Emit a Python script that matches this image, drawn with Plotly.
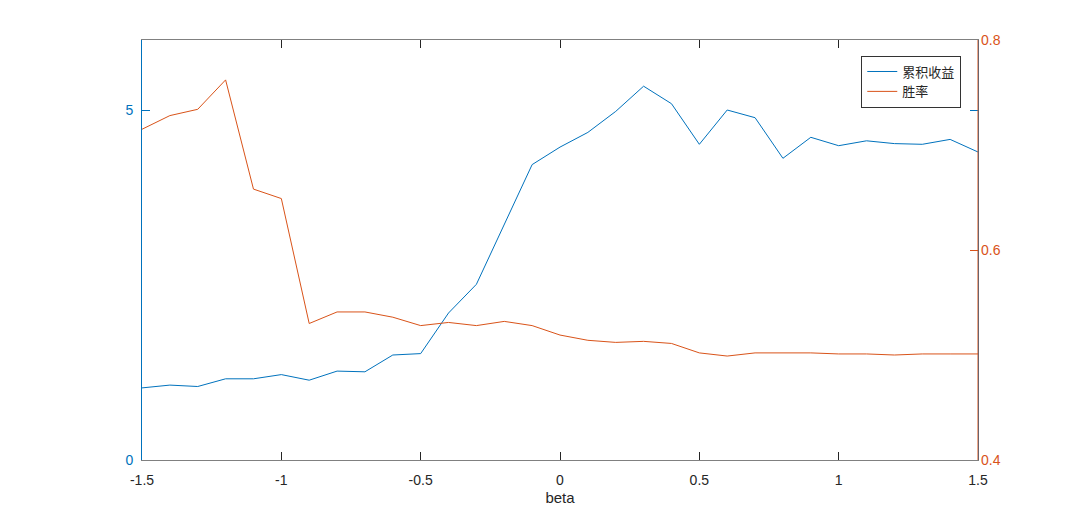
import plotly.graph_objects as go

beta = [-1.5, -1.4, -1.3, -1.2, -1.1, -1.0, -0.9, -0.8, -0.7, -0.6, -0.5, -0.4, -0.3, -0.2, -0.1,
        0.0, 0.1, 0.2, 0.3, 0.4, 0.5, 0.6, 0.7, 0.8, 0.9, 1.0, 1.1, 1.2, 1.3, 1.4, 1.5]
cum_return = [1.03, 1.07, 1.05, 1.16, 1.16, 1.22, 1.14, 1.27, 1.26, 1.50, 1.52, 2.10, 2.51, 3.36, 4.22,
              4.47, 4.68, 4.98, 5.34, 5.09, 4.51, 5.00, 4.89, 4.31, 4.61, 4.49, 4.56, 4.52, 4.51, 4.58, 4.40]
win_rate = [0.715, 0.728, 0.734, 0.762, 0.658, 0.649, 0.530, 0.541, 0.541, 0.536, 0.528, 0.531, 0.528, 0.532, 0.528,
            0.519, 0.514, 0.512, 0.513, 0.511, 0.502, 0.499, 0.502, 0.502, 0.502, 0.501, 0.501, 0.500, 0.501, 0.501, 0.501]

BLUE = "#0072BD"
ORANGE = "#D95319"
GRAY = "#262626"

fig = go.Figure()
fig.add_trace(go.Scatter(x=beta, y=cum_return, mode="lines", name="累积收益",
                         line=dict(color=BLUE, width=1), yaxis="y"))
fig.add_trace(go.Scatter(x=beta, y=win_rate, mode="lines", name="胜率",
                         line=dict(color=ORANGE, width=1), yaxis="y2"))

tickfont = dict(family="Liberation Sans, Arial, sans-serif", size=14)

fig.update_layout(
    width=1065, height=500,
    margin=dict(l=134, r=95, t=32, b=48),
    paper_bgcolor="white", plot_bgcolor="white",
    showlegend=True,
    legend=dict(x=0.98, y=0.963, xanchor="right", yanchor="top",
                bgcolor="white", bordercolor="#333333", borderwidth=1,
                font=dict(family="Noto Sans CJK SC", size=13, color="#262626"),
                tracegroupgap=0, itemwidth=30),
    xaxis=dict(range=[-1.5, 1.5], tickvals=[-1.5, -1, -0.5, 0, 0.5, 1, 1.5],
               ticktext=["-1.5", "-1", "-0.5", "0", "0.5", "1", "1.5"],
               ticks="inside", ticklen=8, tickcolor=GRAY, tickwidth=1,
               showline=True, linecolor="#808080", linewidth=1, mirror="ticks",
               showgrid=False, zeroline=False, ticklabelstandoff=7, automargin=False,
               tickfont=dict(tickfont, color=GRAY),
               title=dict(text="beta", font=dict(family="Liberation Sans, Arial, sans-serif", size=15, color=GRAY), standoff=5)),
    yaxis=dict(range=[0, 6], tickvals=[0, 5], ticks="inside", ticklen=8, tickcolor=BLUE,
               showline=True, linecolor=BLUE, linewidth=1, mirror="ticks",
               showgrid=False, zeroline=False, ticklabelstandoff=5, automargin=False,
               tickfont=dict(tickfont, color=BLUE)),
    yaxis2=dict(range=[0.4, 0.8], tickvals=[0.4, 0.6, 0.8], ticktext=["0.4", "0.6", "0.8"],
                overlaying="y", side="right", anchor="x", ticks="inside", ticklen=8, tickcolor=ORANGE,
                showline=False,
                showgrid=False, zeroline=False, ticklabelstandoff=2, automargin=False,
                tickfont=dict(tickfont, color=ORANGE)),
)
# orange right-hand axis spine (MATLAB yyaxis style)
fig.add_shape(type="line", xref="paper", yref="paper", x0=1, x1=1, y0=0, y1=1,
              line=dict(color=ORANGE, width=1), layer="above")

fig.write_html("out.html")
